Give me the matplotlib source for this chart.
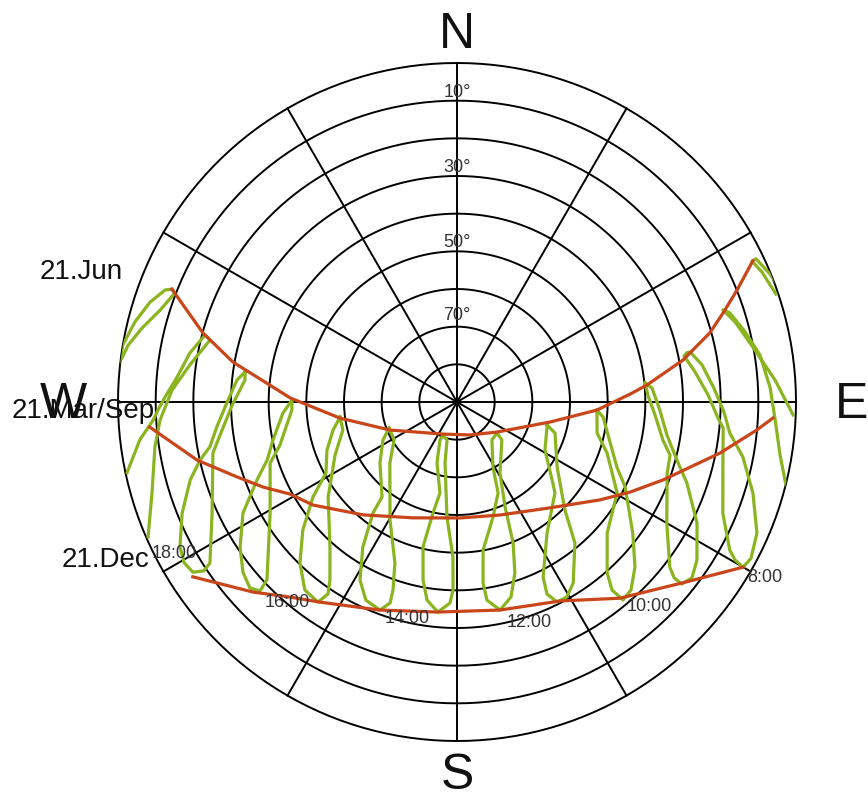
import numpy as np
import matplotlib
matplotlib.use("Agg")
import matplotlib.pyplot as plt

# sun paths on the 21st, (azimuth deg, elevation deg)
jun = [(291.6, 8.6), (285.2, 20.1), (280.1, 29.6), (276.7, 37.3), (271.4, 45.7), (262.2, 58.6), (247.3, 70.7), (203.6, 80.7), (158.5, 80.6), (126.9, 76.7), (102.1, 64.7), (93.3, 52.8), (87.4, 44.0), (84.9, 39.4), (79.5, 29.0), (74.7, 20.4), (71.5, 15.5), (68.2, 9.9), (64.5, 3.0)]
equ = [(265.3, 8.2), (257.4, 19.3), (251.2, 28.3), (246.3, 33.8), (241.1, 39.4), (234.4, 43.0), (219.8, 51.0), (200.8, 57.1), (178.5, 59.2), (159.2, 57.9), (138.7, 52.6), (124.4, 44.0), (117.5, 38.2), (110.7, 31.5), (101.0, 18.9), (95.3, 10.0), (92.9, 6.0)]
dec = [(236.5, 5.9), (231.7, 11.6), (227.0, 16.0), (220.6, 21.8), (214.4, 25.6), (200.3, 31.1), (185.2, 34.0), (168.3, 33.6), (152.6, 30.5), (140.3, 22.3), (128.0, 12.5), (120.0, 2.3)]

# analemmas, one per clock hour
h06 = [(71.3, 0.6), (66.9, 2.0), (64.5, 3.2), (64.4, 2.0), (67.8, 0.2), (70.9, -1.0)]
h07 = [(92.2, 0.7), (86.0, 5.4), (79.5, 10.1), (73.9, 13.2), (70.9, 15.3), (71.9, 13.8), (76.3, 11.3), (81.2, 8.6), (87.3, 6.8), (93.2, 5.4), (99.3, 3.1), (104.2, -0.1)]
h08 = [(78.0, 27.6), (78.5, 28.5), (82.8, 26.3), (88.4, 23.3), (93.5, 20.6), (95.6, 19.0), (101.7, 17.9), (112.7, 13.5), (118.5, 7.6), (119.6, 5.1), (120.0, 2.3), (118.0, 1.6), (113.6, 3.1), (107.1, 7.8), (100.9, 12.7), (96.5, 17.1), (92.1, 19.1), (86.9, 21.7), (81.4, 24.2), (77.9, 26.7), (78.0, 27.6)]
h09 = [(84.2, 39.8), (87.9, 39.3), (93.8, 37.3), (100.5, 34.4), (104.0, 31.7), (108.7, 31.1), (120.0, 25.7), (127.8, 18.5), (129.0, 15.8), (129.0, 13.2), (126.8, 12.1), (123.4, 13.7), (116.8, 18.6), (109.4, 25.3), (104.8, 29.6), (98.9, 33.6), (92.3, 36.1), (85.9, 38.1), (84.2, 39.8)]
h10 = [(93.3, 52.8), (102.5, 51.9), (108.8, 47.9), (119.6, 41.1), (131.1, 37.1), (138.7, 29.6), (140.5, 25.3), (140.0, 21.4), (137.2, 22.0), (132.8, 25.6), (126.7, 31.8), (116.8, 40.0), (112.1, 44.2), (95.9, 51.0), (93.3, 52.8)]
h11 = [(104.3, 65.3), (118.6, 63.4), (130.2, 56.7), (132.9, 54.5), (145.5, 47.8), (153.8, 38.2), (154.9, 33.7), (153.4, 30.6), (150.6, 30.6), (147.3, 32.9), (140.1, 41.2), (135.0, 49.5), (123.0, 58.3), (107.6, 62.7), (104.3, 65.3)]
h12 = [(127.8, 76.6), (137.4, 76.3), (151.0, 70.3), (155.7, 63.5), (162.6, 58.0), (170.0, 50.1), (171.8, 41.5), (171.4, 36.8), (168.3, 33.6), (164.5, 36.3), (161.3, 42.1), (158.3, 49.7), (155.4, 59.3), (148.8, 68.0), (130.2, 74.4), (127.8, 76.6)]
h13 = [(203.0, 80.5), (204.1, 78.9), (198.2, 73.0), (190.6, 65.4), (192.2, 59.9), (193.2, 50.5), (190.8, 41.9), (188.6, 36.8), (185.2, 34.0), (182.0, 36.6), (181.2, 40.1), (181.5, 48.8), (185.0, 59.4), (191.1, 73.5), (194.7, 79.6), (203.0, 80.5)]
h14 = [(249.1, 70.7), (242.8, 67.9), (231.6, 63.9), (218.3, 57.9), (217.1, 53.0), (213.0, 44.1), (208.6, 36.2), (204.7, 32.1), (200.3, 31.1), (198.4, 33.8), (198.8, 37.3), (201.1, 44.2), (209.6, 54.0), (227.7, 65.9), (238.9, 70.5), (249.1, 70.7)]
h15 = [(262.7, 58.7), (257.3, 56.3), (249.7, 53.2), (241.5, 50.4), (236.6, 44.2), (230.3, 36.8), (224.3, 30.3), (219.0, 25.8), (214.8, 25.3), (213.9, 28.6), (215.5, 31.9), (221.2, 38.8), (233.6, 47.5), (246.5, 54.7), (256.2, 58.8), (262.7, 58.7)]
h16 = [(270.7, 46.2), (266.4, 43.7), (258.3, 40.1), (253.0, 37.3), (248.7, 33.0), (242.6, 26.0), (236.2, 20.7), (231.5, 17.4), (228.1, 16.1), (226.2, 17.5), (226.9, 20.9), (239.3, 32.3), (251.9, 37.8), (256.3, 41.6), (267.2, 46.1), (270.7, 46.2)]
h17 = [(278.1, 33.2), (275.7, 31.3), (269.8, 28.9), (264.1, 25.9), (259.7, 23.3), (257.3, 20.1), (253.7, 16.2), (248.0, 11.3), (242.4, 7.0), (239.5, 5.9), (237.2, 6.6), (236.3, 9.2), (236.9, 11.7), (245.6, 18.6), (258.2, 23.8), (263.2, 27.2), (269.2, 30.3), (275.9, 33.4), (278.1, 33.2)]
h18 = [(257.9, 0.4), (263.2, 5.2), (266.6, 9.2), (268.5, 10.6), (271.0, 12.5), (275.1, 15.4), (280.4, 17.9), (284.9, 20.8), (284.1, 22.4), (277.9, 18.4), (272.4, 14.3), (266.5, 11.0), (261.5, 8.9), (253.4, 5.5), (246.4, 0.5)]
h19 = [(275.7, -0.5), (279.7, 0.0), (284.0, 1.9), (288.0, 4.3), (291.0, 7.0), (291.6, 8.6), (291.1, 9.7), (287.2, 7.5), (283.2, 4.1), (279.8, 1.4), (277.5, 0.3)]

elev_labels = ["10°", "30°", "50°", "70°"]
hour_labels = ["8:00", "10:00", "12:00", "14:00", "16:00", "18:00"]

W, H = 868, 799
fig = plt.figure(figsize=(W / 100, H / 100), dpi=100)
ax = fig.add_axes([118 / W, 58 / H, 678 / W, 678 / H], projection="polar")
ax.set_theta_zero_location("N")
ax.set_theta_direction(-1)   # east on the right
ax.set_ylim(0, 90)           # r = 90 - elevation
ax.axis("off")

# elevation rings every 10 deg, azimuth spokes every 30 deg
t = np.linspace(0, 2 * np.pi, 361)
for e in range(0, 90, 10):
    ax.plot(t, np.full_like(t, 90 - e), color="k", lw=1.4, clip_on=False)
for a in range(0, 360, 30):
    ax.plot([np.radians(a)] * 2, [0, 90], color="k", lw=1.4, clip_on=False)

def draw(pts, col):
    az = np.radians([p[0] for p in pts])
    r = [90 - p[1] for p in pts]
    ax.plot(az, r, color=col, lw=2.3)

for h in [h06, h07, h08, h09, h10, h11, h12, h13, h14, h15, h16, h17, h18, h19]:
    draw(h, "#8ab420")
for d in [jun, equ, dec]:
    draw(d, "#c8461a")

def ft(x, y, s, size, ha="left", va="baseline", col="#111111"):
    fig.text(x / W, 1 - y / H, s, fontsize=size, ha=ha, va=va,
             family="Liberation Sans", color=col)

ft(457, 48, "N", 36, "center")
ft(457, 799, "S", 36, "center", "bottom")
ft(63, 418, "W", 36, "center")
ft(835, 418, "E", 36)
ft(40, 279, "21.Jun", 20)
ft(12, 418, "21.Mar/Sep", 20)
ft(62, 567, "21.Dec", 20)
for y, s in zip([97, 172, 247, 320], elev_labels):
    ft(457, y, s, 13, "center", col="#333333")
for (x, y), s in zip([(747, 582), (627, 611), (507, 627), (385, 623), (265, 607), (152, 558)], hour_labels):
    ft(x, y, s, 13, col="#333333")

fig.savefig("out.png")
